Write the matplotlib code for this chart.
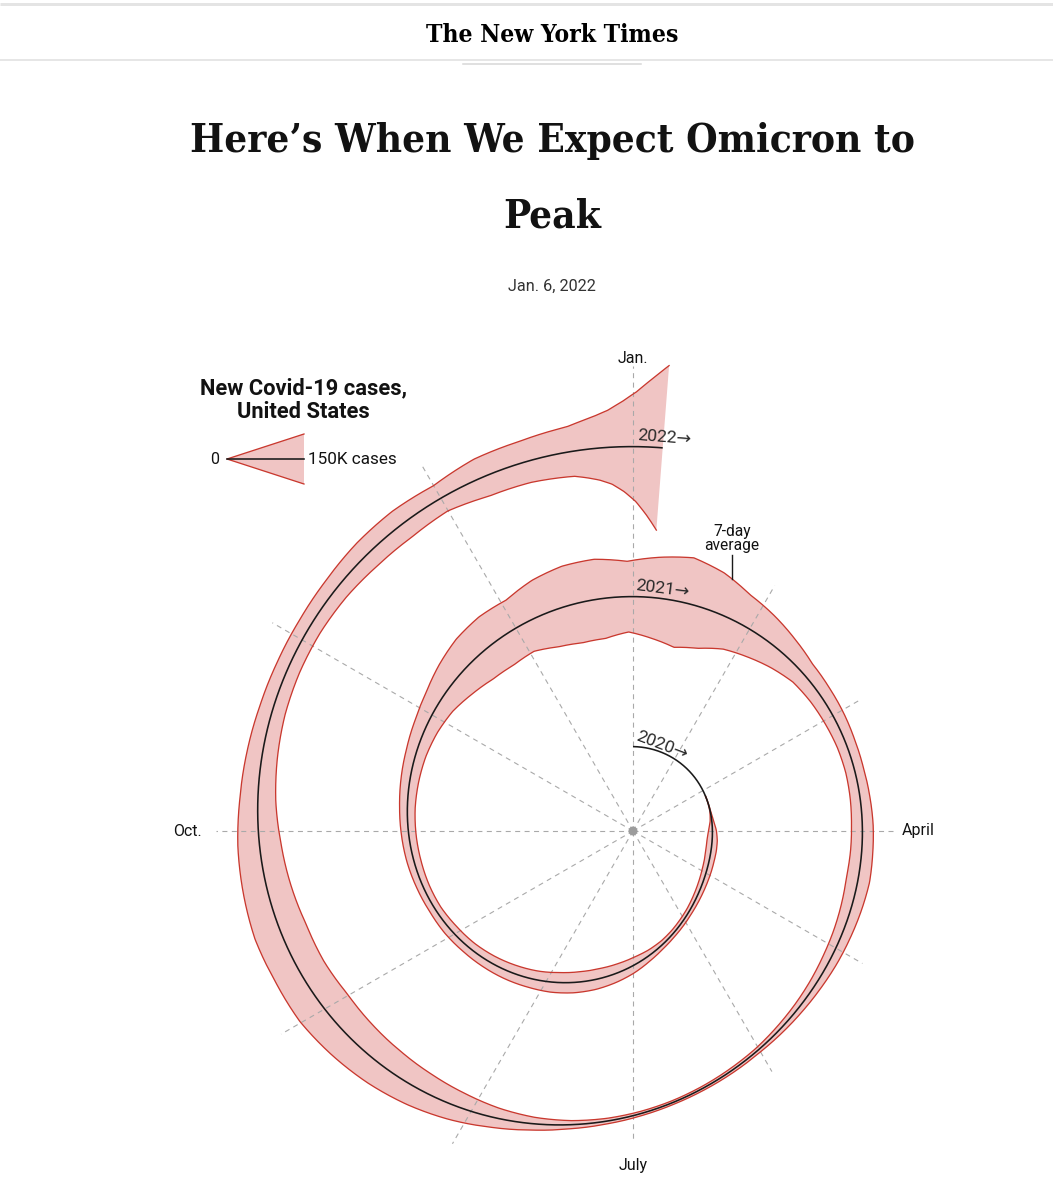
import numpy as np
import pandas as pd
import matplotlib
matplotlib.use('Agg')
import matplotlib.pyplot as plt
from matplotlib import font_manager
from matplotlib.font_manager import FontProperties

# weekly 7-day average of new US cases, in thousands
week_start = '2020-01-01'
weekly_cases_k = [
    0, 0, 0, 0, 0, 0, 0, 0, 0,                      # Jan 1 - Feb 26 2020
    0.05, 0.4, 2.5, 10,                             # March
    24, 31, 32, 30, 29,                             # April
    27, 25, 23, 21,                                 # May
    21, 21, 24, 33,                                 # June
    47, 57, 65, 68, 66,                             # July
    58, 53, 47, 42,                                 # August
    41, 36, 38, 42, 44,                             # September
    47, 54, 62, 76,                                 # October
    97, 132, 163, 178,                              # November
    175, 215, 238, 240, 212,                        # December
    245, 275, 240, 182,                             # Jan 2021
    148, 112, 80, 70,                               # February
    64, 57, 55, 59, 65,                             # March
    67, 71, 63, 55,                                 # April
    48, 39, 31, 24,                                 # May
    17, 15, 13, 12, 13.5,                           # June
    17, 25, 40, 63,                                 # July
    92, 117, 137, 152,                              # August
    165, 158, 160, 145, 130,                        # September
    108, 93, 80, 74,                                # October
    73, 79, 92, 97,                                 # November
    87, 120, 128, 150,                              # December 1-22
]
# the Omicron surge, read every other day
late_dates = ['2021-12-24', '2021-12-26', '2021-12-28', '2021-12-30',
              '2022-01-01', '2022-01-03', '2022-01-05']
late_cases_k = [170, 192, 222, 270, 330, 410, 495]

weekly_dates = pd.date_range(week_start, periods=len(weekly_cases_k), freq='7D')
dates = weekly_dates.append(pd.to_datetime(late_dates))
cases_k = list(weekly_cases_k) + late_cases_k

month_labels = ['Jan.', 'April', 'July', 'Oct.']
month_spokes = [0, 3, 6, 9]
year_labels = ['2020\u2192', '2021\u2192', '2022\u2192']
legend_value = 150  # thousand cases shown by the key
note_date = '2021-01-22'

# ---- layout (pixels) ----
W, H = 1053, 1200
OX, OY = 633, 831          # centre of the month spokes
R0, PER_YEAR = 75, 150     # spiral radius at start, growth per turn
PX_PER_K = 50 / 150        # band width per thousand cases
# small per-direction correction of the spiral radius, measured at each spoke
wobble = np.array([8, -4, -19, -33.5, -40, -37, -13, 9, 32, 38, 30, 24])

PINK = '#f0c5c4'
RED = '#c9382e'
INK = '#121212'
GRAY = '#a9a9a9'


def pt(px):
    return px * 0.72


def harmonics(th):
    th = np.atleast_1d(th)
    cols = [np.ones_like(th)]
    for k in (1, 2, 3):
        cols += [np.cos(k * th), np.sin(k * th)]
    return np.column_stack(cols)


spoke_ang = np.arange(12) * np.pi / 6
wob_coef = np.linalg.lstsq(harmonics(spoke_ang), wobble, rcond=None)[0]


def radius(t):
    t = np.atleast_1d(np.asarray(t, dtype=float))
    return R0 + PER_YEAR * t + harmonics(2 * np.pi * t) @ wob_coef


def to_xy(t, r):
    th = 2 * np.pi * np.asarray(t, dtype=float)
    return OX + r * np.sin(th), OY - r * np.cos(th)


def years_since_start(d):
    return (pd.to_datetime(d) - pd.Timestamp(week_start)).days / 365.25


def condensed_serif():
    order = ['ultra-condensed', 'extra-condensed', 'condensed', 'semi-condensed']
    best = None
    for f in font_manager.fontManager.ttflist:
        try:
            wgt = int(f.weight)
        except (TypeError, ValueError):
            wgt = font_manager.weight_dict.get(f.weight, 400)
        if 'Serif' in f.name and f.stretch in order and f.style == 'normal' and 650 <= wgt <= 800:
            key = (order.index(f.stretch), abs(wgt - 700))
            if best is None or key < best[0]:
                best = (key, f.fname)
    if best:
        return FontProperties(fname=best[1])
    return FontProperties(family=['Liberation Serif', 'DejaVu Serif'], weight='bold')


SANS = ['Roboto', 'DejaVu Sans']

fig = plt.figure(figsize=(W / 100, H / 100), dpi=100)
ax = fig.add_axes([0, 0, 1, 1])
ax.set_xlim(0, W)
ax.set_ylim(H, 0)
ax.axis('off')
renderer = fig.canvas.get_renderer()


def fit(txt, width_px):
    bb = txt.get_window_extent(renderer)
    txt.set_fontsize(txt.get_fontsize() * width_px / bb.width)


# ---- header ----
ax.plot([0, W], [4, 4], color='#e4e4e4', lw=pt(3), solid_capstyle='butt')
ax.plot([0, W], [60, 60], color='#dedede', lw=pt(1.5))
ax.plot([463, 641], [64, 64], color='#d6d6d6', lw=pt(1.5))

serif = condensed_serif()
mast = ax.text(552, 35, 'The New York Times', fontproperties=serif, fontsize=20,
               ha='center', va='center', color='#000000')
fit(mast, 252)

t1 = ax.text(552, 150, 'Here\u2019s When We Expect Omicron to', fontproperties=serif,
             fontsize=40, ha='center', va='baseline', color=INK)
fit(t1, 723)
cap = 0.7 * t1.get_fontsize() / 0.72
t1.set_y(138 + cap / 2)
ax.text(552, 213 + cap / 2, 'Peak', fontproperties=serif, fontsize=t1.get_fontsize(),
        ha='center', va='baseline', color=INK)

date_txt = ax.text(552, 286, 'Jan. 6, 2022', family=SANS, fontsize=pt(15),
                   ha='center', va='center', color='#333333')
fit(date_txt, 88)

# ---- spiral ----
t_data = years_since_start(dates).to_numpy()
t = np.linspace(0, t_data[-1], 4000)
r = radius(t)
w = np.interp(t, t_data, cases_k) * PX_PER_K
xo, yo = to_xy(t, r + w / 2)
xi, yi = to_xy(t, r - w / 2)
xl, yl = to_xy(t, r)

ax.fill(np.r_[xo, xi[::-1]], np.r_[yo, yi[::-1]], color=PINK, lw=0, zorder=2)
has_band = w > 0.05
for ex, ey in ((xo, yo), (xi, yi)):
    ax.plot(np.where(has_band, ex, np.nan), np.where(has_band, ey, np.nan),
            color=RED, lw=pt(1.3), zorder=3)
ax.plot(xl, yl, color='#1a1a1a', lw=pt(1.6), zorder=4, solid_capstyle='butt')

# month spokes, each running a little past the outermost band edge
th_pts = np.mod(2 * np.pi * t, 2 * np.pi)
r_out = r + w / 2
spoke_end = []
for a in spoke_ang:
    near = np.abs(np.mod(th_pts - a + np.pi, 2 * np.pi) - np.pi) < 0.02
    spoke_end.append(r_out[near].max() + 22)
for a, re in zip(spoke_ang, spoke_end):
    ax.plot([OX, OX + re * np.sin(a)], [OY, OY - re * np.cos(a)], color=GRAY,
            lw=0.8, linestyle=(0, (4.5, 4)), zorder=2.5)
ax.add_patch(plt.Circle((OX, OY), 4.5, color='#9c9c9c', zorder=5, lw=0))

for lab, k in zip(month_labels, month_spokes):
    a, re = spoke_ang[k], spoke_end[k]
    x, y = OX + re * np.sin(a), OY - re * np.cos(a)
    style = dict(family=SANS, fontsize=pt(16), color=INK, va='center')
    if k == 0:
        ax.text(x, y - 8, lab, ha='center', **style)
    elif k == 3:
        ax.text(x + 6, y, lab, ha='left', **style)
    elif k == 6:
        ax.text(x, y + 24, lab, ha='center', **style)
    else:
        ax.text(x - 14, y, lab, ha='right', **style)

# year labels riding on each turn
for i, lab in enumerate(year_labels):
    t0 = i + 0.0015
    x0, y0 = to_xy(t0, radius(t0)[0] + 4)
    tm = i + 28 / (2 * np.pi * radius(i)[0])
    tt = np.array([tm - 0.003, tm + 0.003])
    xx, yy = to_xy(tt, radius(tt))
    rot = np.degrees(np.arctan2(-(yy[1] - yy[0]), xx[1] - xx[0]))
    ax.text(x0, y0, lab, family=SANS, fontsize=pt(17.5), rotation=rot, rotation_mode='anchor',
            ha='left', va='bottom', color='#2a2a2a', zorder=6)

# 7-day average note
tn = years_since_start(note_date)
wn = np.interp(tn, t_data, cases_k) * PX_PER_K
xn, yn = to_xy(tn, radius(tn)[0] + wn / 2)
ax.plot([xn, xn], [yn, yn - 24], color='#1a1a1a', lw=pt(1.4), zorder=6)
ax.text(xn, yn - 26, '7-day\naverage', family=SANS, fontsize=pt(15.5), ha='center',
        va='bottom', linespacing=0.92, color=INK, zorder=6)

# ---- key ----
key_title = ax.text(303, 400, 'New Covid-19 cases,\nUnited States', family=SANS,
                    weight='bold', fontsize=pt(20), ha='center', va='center',
                    linespacing=1.08, color=INK)
fit(key_title, 207)
half = legend_value * PX_PER_K / 2
kx0, kx1, ky = 227, 304, 459
ax.fill([kx0, kx1, kx1], [ky, ky - half, ky + half], color=PINK, lw=0, zorder=2)
ax.plot([kx1, kx0, kx1], [ky - half, ky, ky + half], color=RED, lw=pt(1.3), zorder=3)
ax.plot([kx0, kx1], [ky, ky], color='#1a1a1a', lw=pt(1.6), zorder=4)
ax.text(kx0 - 8, ky, '0', family=SANS, fontsize=pt(16), ha='right', va='center', color=INK)
k_lab = ax.text(kx1 + 4, ky, f'{legend_value}K cases', family=SANS, fontsize=pt(16),
                ha='left', va='center', color=INK)
fit(k_lab, 89)

fig.savefig('out.png', dpi=100, facecolor='white')
